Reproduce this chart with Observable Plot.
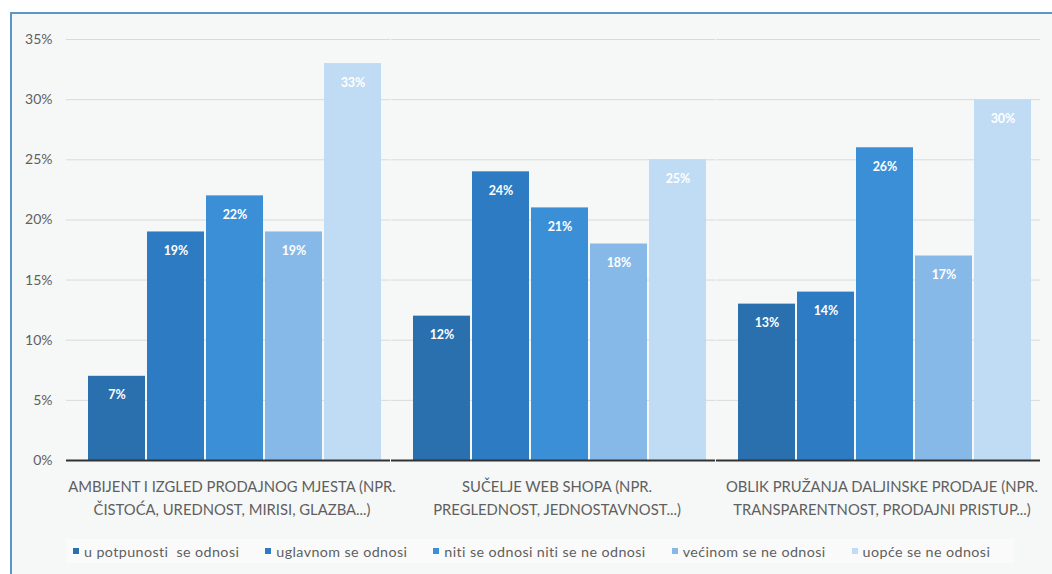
<!DOCTYPE html>
<html>
<head>
<meta charset="utf-8">
<script src="https://cdn.jsdelivr.net/npm/d3@7"></script>
<script src="https://cdn.jsdelivr.net/npm/@observablehq/plot@0.6"></script>
<style>
  html, body { margin: 0; padding: 0; background: #ffffff; }
  #wrap { position: relative; width: 1052px; height: 574px; overflow: hidden; background: #ffffff; font-family: Lato, "Open Sans", sans-serif; }
  #frame { position: absolute; left: 10px; top: 12px; width: 1060px; height: 580px; border-top: 2px solid #5d95c8; border-left: 2px solid #5d95c8; background: #f6f7f7; box-sizing: border-box; }
  #chart { position: absolute; left: 0; top: 0; }
  #legend { position: absolute; left: 66px; top: 539px; width: 948px; height: 24px; display: flex; align-items: center; font-size: 14.3px; letter-spacing: 0.4px; color: #5f5f5f; background: #fafafa; }
  .item { display: flex; align-items: center; margin-left: 7px; margin-right: 19px; white-space: pre; }
  .sw { width: 6px; height: 6px; margin-right: 5px; display: inline-block; }
</style>
</head>
<body>
<div id="wrap">
  <div id="frame"></div>
  <div id="chart"></div>
  <div id="legend"></div>
</div>
<script>
const categories = [
  "AMBIJENT I IZGLED PRODAJNOG MJESTA (NPR.\nČISTOĆA, UREDNOST, MIRISI, GLAZBA...)",
  "SUČELJE WEB SHOPA (NPR.\nPREGLEDNOST, JEDNOSTAVNOST...)",
  "OBLIK PRUŽANJA DALJINSKE PRODAJE (NPR.\nTRANSPARENTNOST, PRODAJNI PRISTUP...)"
];
const series = [
  "u potpunosti  se odnosi",
  "uglavnom se odnosi",
  "niti se odnosi niti se ne odnosi",
  "većinom se ne odnosi",
  "uopće se ne odnosi"
];
const valuesAmbijent = [7, 19, 22, 19, 33];
const valuesSucelje = [12, 24, 21, 18, 25];
const valuesOblik = [13, 14, 26, 17, 30];
const colors = ["#2a6fae", "#2d7cc3", "#3b8fd7", "#86b9e8", "#c0dbf4"];
const yTicks = [0, 5, 10, 15, 20, 25, 30, 35];

const seriesValues = [valuesAmbijent, valuesSucelje, valuesOblik];
const data = [];
categories.forEach((c, i) => series.forEach((s, j) => data.push({category: c, series: s, value: seriesValues[i][j]})));

const chart = Plot.plot({
  width: 1052,
  height: 530,
  marginLeft: 66,
  marginRight: 12,
  marginTop: 39,
  marginBottom: 70,
  style: {background: "transparent", fontFamily: "Lato, 'Open Sans', sans-serif", color: "#595959"},
  fx: {domain: categories, range: [87, 1032], paddingInner: 0.1, paddingOuter: 0, label: null},
  x: {domain: series, paddingInner: 0.035, paddingOuter: 0, axis: null},
  y: {domain: [0, 35], label: null},
  color: {domain: series, range: colors},
  marks: [
    Plot.ruleY(yTicks.filter(d => d > 0), {stroke: "#dadada", strokeWidth: 1, insetLeft: -22, insetRight: -9}),
    Plot.barY(data, {fx: "category", x: "series", y: "value", fill: "series"}),
    Plot.text(data, {fx: "category", x: "series", y: "value", text: d => d.value + "%", dy: 19, fill: "white", fontWeight: "bold", fontSize: 12.5}),
    Plot.ruleY([0], {stroke: "#333333", strokeWidth: 2, insetLeft: -22, insetRight: -9}),
    Plot.axisY({ticks: yTicks, tickFormat: d => d + "%", tickSize: 0, tickPadding: 36, fontSize: 14, letterSpacing: 0.5, label: null, fill: "#5f5f5f"}),
    Plot.axisFx({anchor: "bottom", tickSize: 0, tickPadding: 15, fontSize: 14.8, lineHeight: 1.55, dx: -3, label: null, fill: "#5f5f5f"})
  ]
});
document.getElementById("chart").appendChild(chart);

const legend = document.getElementById("legend");
series.forEach((s, i) => {
  const item = document.createElement("div");
  item.className = "item";
  const sw = document.createElement("span");
  sw.className = "sw";
  sw.style.background = colors[i];
  item.appendChild(sw);
  item.appendChild(document.createTextNode(s));
  legend.appendChild(item);
});
</script>
</body>
</html>
